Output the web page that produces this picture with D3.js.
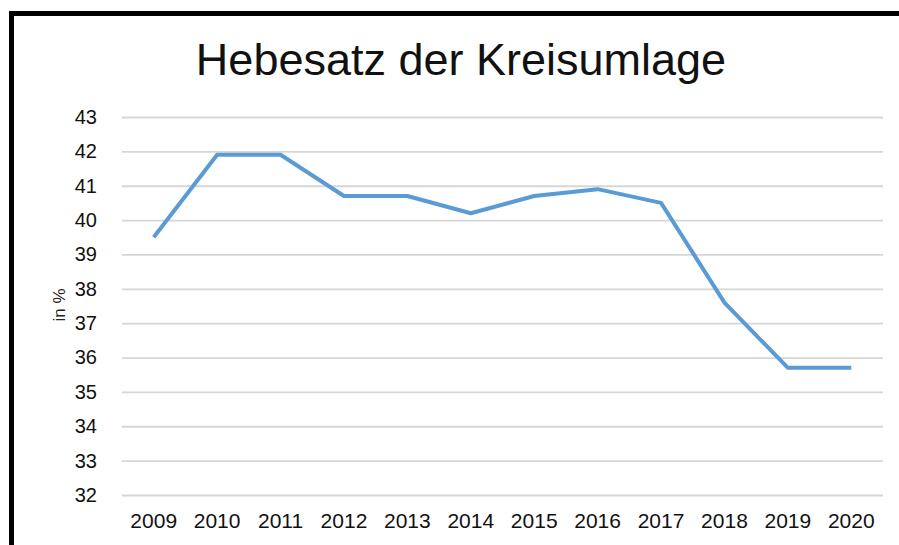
<!DOCTYPE html>
<html>
<head>
<meta charset="utf-8">
<script src="https://cdn.jsdelivr.net/npm/d3@7"></script>
<style>
  body { margin: 0; background: #fff; overflow: hidden; }
  svg { display: block; font-family: "Liberation Sans", Arial, sans-serif; }
</style>
</head>
<body>
<div class="chart"></div>
<script>
// Data
const years = ["2009", "2010", "2011", "2012", "2013", "2014", "2015", "2016", "2017", "2018", "2019", "2020"];
const rates = [39.5, 41.9, 41.9, 40.7, 40.7, 40.2, 40.7, 40.9, 40.5, 37.6, 35.7, 35.7];
const yTicks = [32, 33, 34, 35, 36, 37, 38, 39, 40, 41, 42, 43];

const W = 899, H = 545;
const margin = { top: 117, right: 16, bottom: 50, left: 122 };

const svg = d3.select(".chart")
  .append("svg")
  .attr("width", W)
  .attr("height", H);

// Frame (cropped at right and bottom)
svg.append("rect")
  .attr("x", 11.5)
  .attr("y", 13.5)
  .attr("width", W + 20)
  .attr("height", H + 20)
  .attr("fill", "#fff")
  .attr("stroke", "#000")
  .attr("stroke-width", 5);

// Title
svg.append("text")
  .attr("x", 461)
  .attr("y", 75)
  .attr("text-anchor", "middle")
  .style("font-size", "45px")
  .style("fill", "#111")
  .text("Hebesatz der Kreisumlage");

// Scales
const x = d3.scaleBand()
  .domain(years)
  .range([margin.left, W - margin.right]);

const y = d3.scaleLinear()
  .domain([32, 43])
  .range([H - margin.bottom, margin.top]);

// Grid lines
svg.append("g")
  .attr("transform", `translate(${margin.left},0)`)
  .call(d3.axisLeft(y).tickValues(yTicks).tickSize(-(W - margin.right - margin.left)).tickFormat(""))
  .call(g => g.select(".domain").remove())
  .selectAll("line")
  .attr("stroke", "#d6d6d6")
  .attr("stroke-width", 1.8);

// Y tick labels
svg.append("g")
  .attr("transform", `translate(${margin.left},0)`)
  .call(d3.axisLeft(y).tickValues(yTicks).tickSize(0).tickPadding(25))
  .call(g => g.select(".domain").remove())
  .selectAll("text")
  .style("font-size", "20px")
  .style("font-family", "'Liberation Sans', Arial, sans-serif")
  .style("fill", "#111");

// X tick labels
svg.append("g")
  .attr("transform", `translate(0,${H - margin.bottom})`)
  .call(d3.axisBottom(x).tickSize(0).tickPadding(18))
  .call(g => g.select(".domain").remove())
  .selectAll("text")
  .style("font-size", "21px")
  .style("font-family", "'Liberation Sans', Arial, sans-serif")
  .style("fill", "#111");

// Y axis title
svg.append("text")
  .attr("transform", "translate(65,305) rotate(-90)")
  .attr("text-anchor", "middle")
  .style("font-size", "17px")
  .style("fill", "#222")
  .text("in %");

// Line
const line = d3.line()
  .x((d, i) => x(years[i]) + x.bandwidth() / 2)
  .y(d => y(d));

svg.append("path")
  .datum(rates)
  .attr("fill", "none")
  .attr("stroke", "#5b9bd5")
  .attr("stroke-width", 4)
  .attr("stroke-linejoin", "round")
  .attr("d", line);
</script>
</body>
</html>
